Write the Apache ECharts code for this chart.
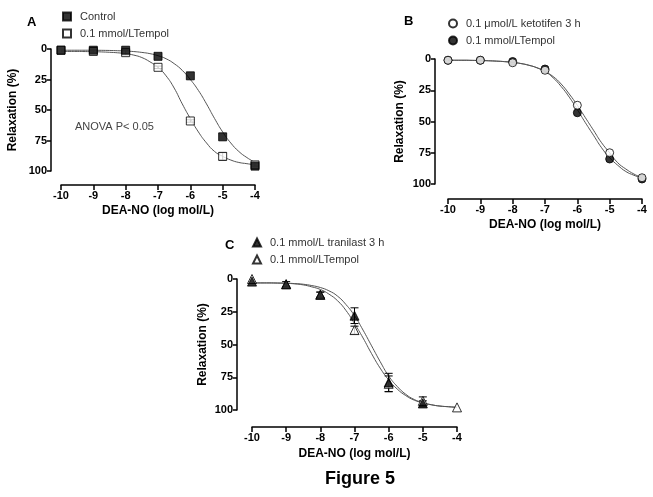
<!DOCTYPE html>
<html><head><meta charset="utf-8">
<script src="https://cdn.jsdelivr.net/npm/echarts@6/dist/echarts.min.js"></script>
<style>html,body{margin:0;padding:0;background:#fff}#c{width:653px;height:497px}</style>
</head><body><div id="c"></div>
<script>
const xTicks = [-10,-9,-8,-7,-6,-5,-4];
const yTicks = [0,25,50,75,100];
const doses = [-10,-9,-8,-7,-6,-5,-4];
const fitX = [-10,-9.75,-9.5,-9.25,-9,-8.75,-8.5,-8.25,-8,-7.75,-7.5,-7.25,-7,-6.75,-6.5,-6.25,-6,-5.75,-5.5,-5.25,-5,-4.75,-4.5,-4.25,-4];

// Panel A
const aControl = [1,1,1,6,22,72,96];
const aTempol = [1,2,3,15,59,88,95];
const aTempolErr = [0,1,2,1,1,3,1];
const aControlFit = [1,1,1,1,1,1.1,1.2,1.4,1.7,2.1,2.8,3.8,5.5,8,12,17.5,25,34,45,57,68,77,84,89,93];
const aTempolFit = [2,2,2,2.1,2.2,2.4,2.7,3.1,3.8,5,7,10.5,15,22,32,45,57,68,77,84,88,91,93,94,95];

// Panel B
const bKeto = [1,1,3,9,37,75,95];
const bTempol = [1,1,2,8,43,80,96];
const bKetoFit = [1,1,1,1.1,1.2,1.4,1.7,2.1,2.7,3.6,5,7,10,14,20,28,37,47,57,67,75,83,88,92,95];
const bTempolFit = [1,1,1,1.1,1.2,1.4,1.7,2.1,2.7,3.6,5,7,10,15,22,30.5,40.5,51,61,71,79,85,90,93,95.5];

// Panel C
const cTran = [2,4,12,28,79,95,null];
const cTranErr = [0,0,2,6,7,2,0];
const cTempol = [0,4,12,39,80,93,98];
const cTempolErr = [0,2,2,3,6,3,0];
const cTranFit = [3,3,3,3.1,3.2,3.5,4,5,6.5,9,13,19.5,28,39,51,63,74,82,88,92,94.5,96,97,97.5,98];
const cTempolFit = [3,3,3,3.1,3.3,3.7,4.5,6,8,11.5,16.5,24,34,45,57,68,77,84,89,92.5,94.5,96,97,97.5,98];

const FONT = 'Liberation Sans';
const pair = (xs, ys) => xs.map((x,i) => [x, ys[i]]).filter(p => p[1] !== null);
const errData = (ys, es) => doses.map((x,i) => [x, ys[i], es[i]]).filter(d => d[1] !== null && d[2] > 0);

function xAxisCfg(gi, offset, gap) {
  return {gridIndex: gi, type: 'value', position: 'bottom', min: -10, max: -4, interval: 1, offset: offset,
    name: 'DEA-NO (log mol/L)', nameLocation: 'middle', nameGap: gap,
    nameTextStyle: {fontFamily: FONT, fontWeight: 'bold', fontSize: 12, color: '#000'},
    axisLine: {onZero: false, lineStyle: {color: '#000', width: 1.5}},
    axisTick: {show: true, length: 5, lineStyle: {color: '#000', width: 1.5}},
    axisLabel: {fontFamily: FONT, fontWeight: 'bold', fontSize: 11, color: '#000', margin: 5},
    splitLine: {show: false}};
}
function yAxisCfg(gi, offset, gap) {
  return {gridIndex: gi, type: 'value', position: 'left', inverse: true, min: 0, max: 100, interval: 25, offset: offset,
    name: 'Relaxation (%)', nameLocation: 'middle', nameGap: gap,
    nameTextStyle: {fontFamily: FONT, fontWeight: 'bold', fontSize: 12, color: '#000'},
    axisLine: {show: true, onZero: false, lineStyle: {color: '#000', width: 1.5}},
    axisTick: {show: true, length: 4, lineStyle: {color: '#000', width: 1.5}},
    axisLabel: {fontFamily: FONT, fontWeight: 'bold', fontSize: 11, color: '#000', margin: 4},
    splitLine: {show: false}};
}
function fit(name, gi, ys) {
  return {name: name, type: 'line', xAxisIndex: gi, yAxisIndex: gi, data: pair(fitX, ys), smooth: true,
    showSymbol: false, symbol: 'none', lineStyle: {color: '#555', width: 1}, silent: true, z: 2};
}
function pts(name, gi, ys, symbol, filled, size) {
  return {name: name, type: 'scatter', xAxisIndex: gi, yAxisIndex: gi, data: pair(doses, ys),
    symbol: symbol, symbolSize: size,
    itemStyle: {color: filled ? '#000' : '#fff', borderColor: '#000', borderWidth: 1}, z: 4};
}
function errs(gi, ys, es) {
  return {type: 'custom', xAxisIndex: gi, yAxisIndex: gi, data: errData(ys, es), z: 3, silent: true,
    renderItem: function(params, api) {
      const x = api.value(0), y = api.value(1), e = api.value(2);
      const top = api.coord([x, y - e]), bot = api.coord([x, y + e]);
      const w = 4;
      return {type: 'group', children: [
        {type: 'line', shape: {x1: top[0], y1: top[1], x2: bot[0], y2: bot[1]}, style: {stroke: '#000', lineWidth: 1}},
        {type: 'line', shape: {x1: top[0]-w, y1: top[1], x2: top[0]+w, y2: top[1]}, style: {stroke: '#000', lineWidth: 1}},
        {type: 'line', shape: {x1: bot[0]-w, y1: bot[1], x2: bot[0]+w, y2: bot[1]}, style: {stroke: '#000', lineWidth: 1}}
      ]};
    }};
}
function legendCfg(names, left, top) {
  return {data: names, left: left, top: top, orient: 'vertical', itemWidth: 8, itemHeight: 8, itemGap: 6,
    selectedMode: false, textStyle: {fontFamily: FONT, fontSize: 11, color: '#333', padding: [0,0,0,4]}};
}
const label = (t, x, y, size, weight, color) => ({type: 'text', left: x, top: y,
  style: {text: t, fontFamily: FONT, fontSize: size, fontWeight: weight, fill: color}});

const chart = echarts.init(document.getElementById('c'), null, {renderer: 'canvas'});
chart.setOption({
  animation: false,
  backgroundColor: '#fff',
  grid: [
    {left: 61, width: 194, top: 49, height: 122},
    {left: 448, width: 194, top: 59, height: 125},
    {left: 252, width: 205, top: 279, height: 131}
  ],
  xAxis: [xAxisCfg(0, 14, 20), xAxisCfg(1, 15, 20), xAxisCfg(2, 17, 21)],
  yAxis: [yAxisCfg(0, 10, 32), yAxisCfg(1, 13, 29), yAxisCfg(2, 15, 28)],
  legend: [
    legendCfg(['Control', '0.1 mmol/LTempol'], 57, 6),
    legendCfg(['0.1 μmol/L ketotifen 3 h', '0.1 mmol/LTempol '], 443, 13),
    legendCfg(['0.1 mmol/L tranilast 3 h', '0.1 mmol/LTempol  '], 247, 232)
  ],
  graphic: [
    label('A', 27, 16, 13, 'bold', '#000'),
    label('B', 404, 15, 13, 'bold', '#000'),
    label('C', 225, 239, 13, 'bold', '#000'),
    label('ANOVA P< 0.05', 75, 121, 11, 'normal', '#444'),
    label('Figure 5', 325, 470, 18, 'bold', '#000')
  ],
  series: [
    fit('fitA1', 0, aControlFit), fit('fitA2', 0, aTempolFit),
    errs(0, aTempol, aTempolErr),
    pts('0.1 mmol/LTempol', 0, aTempol, 'rect', false, 8),
    pts('Control', 0, aControl, 'rect', true, 8),
    fit('fitB1', 1, bKetoFit), fit('fitB2', 1, bTempolFit),
    pts('0.1 mmol/LTempol ', 1, bTempol, 'circle', true, 8),
    pts('0.1 μmol/L ketotifen 3 h', 1, bKeto, 'circle', false, 8),
    fit('fitC1', 2, cTranFit), fit('fitC2', 2, cTempolFit),
    errs(2, cTran, cTranErr), errs(2, cTempol, cTempolErr),
    pts('0.1 mmol/LTempol  ', 2, cTempol, 'triangle', false, 9),
    pts('0.1 mmol/L tranilast 3 h', 2, cTran, 'triangle', true, 9)
  ]
});
</script></body></html>
